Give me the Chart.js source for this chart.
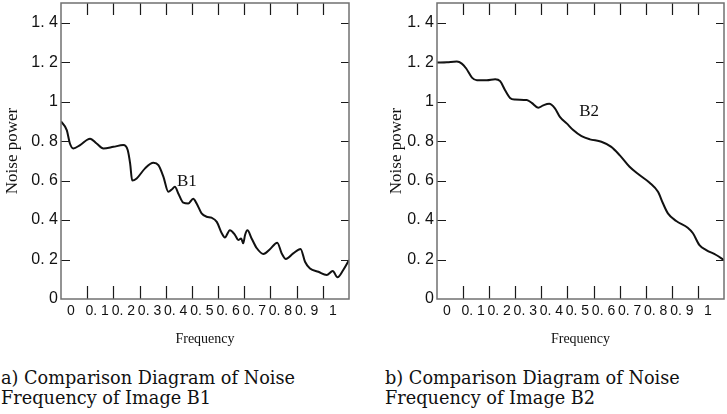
<!DOCTYPE html>
<html>
<head>
<meta charset="utf-8">
<script src="https://cdn.jsdelivr.net/npm/chart.js@4.4.1/dist/chart.umd.min.js"></script>
<style>
  html, body { margin: 0; padding: 0; background: #fff; width: 727px; height: 414px; overflow: hidden; }
  canvas { position: absolute; top: 0; }
  #chartB1 { left: 0; }
  #chartB2 { left: 376px; }
  .caption { position: absolute; top: 368px; font-family: "DejaVu Serif", serif; font-size: 17.7px; line-height: 20px; color: #111; white-space: nowrap; }
  #capB1 { left: 1px; }
  #capB2 { left: 385px; }
</style>
</head>
<body>
<canvas id="chartB1" width="363" height="350"></canvas>
<canvas id="chartB2" width="351" height="350"></canvas>
<div class="caption" id="capB1">a) Comparison Diagram of Noise<br>Frequency of Image B1</div>
<div class="caption" id="capB2">b) Comparison Diagram of Noise<br>Frequency of Image B2</div>
<script>
// tick values and labels (labels are printed as in the original figure)
const xTicks = [0, 0.1, 0.2, 0.3, 0.4, 0.5, 0.6, 0.7, 0.8, 0.9, 1.0, 1.1];
const xTickLabels = ['0', '0. 1', '0. 2', '0. 3', '0. 4', '0. 5', '0. 6', '0. 7', '0. 8', '0. 9', '1', ''];
const yTicks = [0, 0.2, 0.4, 0.6, 0.8, 1.0, 1.2, 1.4];
const yTickLabels = ['0', '0. 2', '0. 4', '0. 6', '0. 8', '1', '1. 2', '1. 4'];

// image B1
const b1Freq = [0, 0.022, 0.034, 0.047, 0.073, 0.111, 0.136, 0.162, 0.2, 0.238, 0.255, 0.264, 0.272, 0.289, 0.321,
  0.353, 0.372, 0.391, 0.41, 0.423, 0.435, 0.448, 0.467, 0.486, 0.505, 0.518, 0.537, 0.556, 0.575, 0.595, 0.614,
  0.626, 0.645, 0.665, 0.677, 0.688, 0.696, 0.703, 0.712, 0.728, 0.748, 0.773, 0.798, 0.826, 0.843, 0.859, 0.887,
  0.915, 0.932, 0.951, 0.983, 1.015, 1.038, 1.056, 1.078, 1.1];
const b1Power = [0.90, 0.856, 0.788, 0.763, 0.78, 0.812, 0.788, 0.763, 0.771, 0.78, 0.754, 0.687, 0.6, 0.611, 0.662,
  0.69, 0.678, 0.62, 0.543, 0.555, 0.569, 0.535, 0.488, 0.484, 0.508, 0.484, 0.434, 0.417, 0.412, 0.391, 0.333,
  0.312, 0.349, 0.324, 0.299, 0.307, 0.282, 0.324, 0.348, 0.307, 0.257, 0.228, 0.252, 0.285, 0.231, 0.203, 0.231,
  0.254, 0.189, 0.155, 0.138, 0.122, 0.142, 0.11, 0.147, 0.197];

// image B2
const b2Freq = [0, 0.038, 0.076, 0.095, 0.112, 0.134, 0.153, 0.191, 0.223, 0.242, 0.261, 0.28, 0.299, 0.344, 0.363,
  0.388, 0.407, 0.43, 0.452, 0.471, 0.497, 0.522, 0.554, 0.586, 0.63, 0.668, 0.7, 0.738, 0.776, 0.815, 0.847,
  0.866, 0.885, 0.917, 0.961, 0.981, 1.006, 1.032, 1.07, 1.1];
const b2Power = [1.198, 1.2, 1.203, 1.193, 1.168, 1.122, 1.109, 1.109, 1.114, 1.104, 1.058, 1.019, 1.011, 1.008, 0.994,
  0.969, 0.981, 0.989, 0.966, 0.923, 0.89, 0.856, 0.825, 0.809, 0.797, 0.771, 0.729, 0.67, 0.628, 0.589, 0.543,
  0.485, 0.434, 0.395, 0.361, 0.333, 0.273, 0.248, 0.223, 0.197];

// framing box with inward tick marks plus the curve tag
const framePlugin = {
  id: 'frame',
  afterDatasetsDraw(chart, args, opts) {
    const { ctx, chartArea: { left, right, top, bottom }, scales: { x, y } } = chart;
    ctx.save();
    ctx.strokeStyle = '#1a1a1a';
    ctx.lineWidth = 1.2;
    ctx.beginPath();
    x.ticks.forEach(t => {
      if (t.value <= x.min || t.value >= x.max) return;
      const px = Math.round(x.getPixelForValue(t.value)) + 0.5;
      ctx.moveTo(px, bottom); ctx.lineTo(px, bottom - 13);
      ctx.moveTo(px, top); ctx.lineTo(px, top + 12);
    });
    y.ticks.forEach(t => {
      if (t.value <= y.min || t.value >= y.max) return;
      const py = Math.round(y.getPixelForValue(t.value)) + 0.5;
      ctx.moveTo(left, py); ctx.lineTo(left + 9, py);
      ctx.moveTo(right, py); ctx.lineTo(right - 8, py);
    });
    ctx.stroke();

    ctx.strokeStyle = '#707070';
    ctx.lineWidth = 1.5;
    ctx.strokeRect(left, top, right - left, bottom - top);

    ctx.font = '17px "Liberation Serif"';
    ctx.fillStyle = '#111';
    ctx.textAlign = 'center';
    ctx.textBaseline = 'middle';
    ctx.fillText(opts.text, x.getPixelForValue(opts.at[0]), y.getPixelForValue(opts.at[1]));
    ctx.restore();
  }
};

function noiseChart(id, freq, power, tag, tagAt, padRight, yTitlePad) {
  const points = freq.map((f, i) => ({ x: f, y: power[i] }));
  return new Chart(document.getElementById(id), {
    type: 'line',
    data: {
      datasets: [{
        data: points,
        borderColor: '#111',
        borderWidth: 2,
        pointRadius: 0,
        fill: false,
        cubicInterpolationMode: 'monotone'
      }]
    },
    options: {
      responsive: false,
      animation: false,
      devicePixelRatio: 1,
      layout: { autoPadding: false, padding: { left: 0, right: padRight, top: 3, bottom: 0 } },
      plugins: {
        legend: { display: false },
        tooltip: { enabled: false },
        frame: { text: tag, at: tagAt }
      },
      scales: {
        x: {
          type: 'linear',
          min: 0,
          max: 1.1,
          grid: { display: false, drawTicks: false },
          border: { display: false },
          afterBuildTicks: scale => { scale.ticks = xTicks.map(v => ({ value: v })); },
          afterFit: scale => {
            scale.height = 51;
            scale.paddingLeft = 0;
            scale.paddingRight = 0;
          },
          ticks: {
            autoSkip: false,
            maxRotation: 0,
            padding: 4,
            labelOffset: 10,
            color: '#111',
            font: { family: '"Liberation Sans"', size: 14 },
            callback: (v, i) => xTickLabels[i]
          },
          title: {
            display: true,
            text: 'Frequency',
            color: '#111',
            font: { family: '"Liberation Serif"', size: 14 },
            padding: { top: 0, bottom: 2 }
          }
        },
        y: {
          min: 0,
          max: 1.5,
          grid: { display: false, drawTicks: false },
          border: { display: false },
          afterBuildTicks: scale => { scale.ticks = yTicks.map(v => ({ value: v })); },
          afterFit: scale => {
            scale.width = 61;
            scale.paddingTop = 0;
            scale.paddingBottom = 0;
          },
          ticks: {
            padding: 3,
            color: '#111',
            font: { family: '"Liberation Sans"', size: 16 },
            callback: (v, i) => yTickLabels[i]
          },
          title: {
            display: true,
            text: 'Noise power',
            color: '#111',
            font: { family: '"Liberation Serif"', size: 17 },
            padding: { top: yTitlePad, bottom: 0 }
          }
        }
      }
    },
    plugins: [framePlugin]
  });
}

noiseChart('chartB1', b1Freq, b1Power, 'B1', [0.481, 0.597], 14, 2);
noiseChart('chartB2', b2Freq, b2Power, 'B2', [0.583, 0.952], 3, 10);
</script>
</body>
</html>
